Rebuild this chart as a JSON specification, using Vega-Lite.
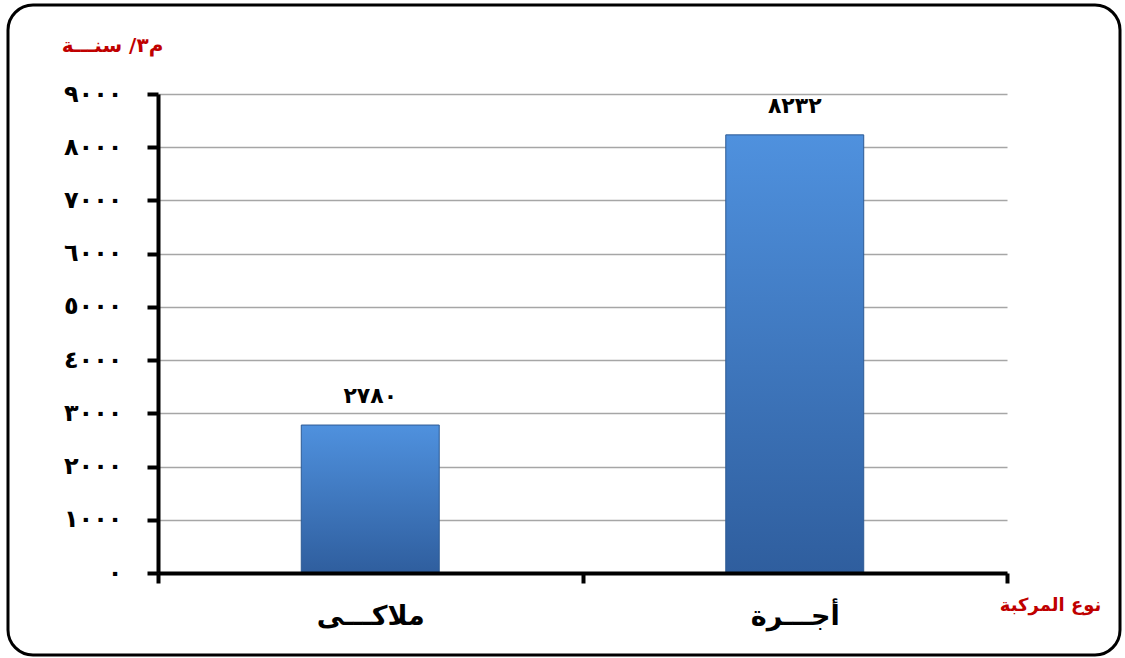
{
  "$schema": "https://vega.github.io/schema/vega-lite/v6.json",
  "width": 1112,
  "height": 650,
  "autosize": {"type": "none"},
  "padding": {"left": 8, "top": 5, "right": 5, "bottom": 3},
  "background": "white",
  "config": {
    "locale": {
      "number": {
        "decimal": ".",
        "thousands": ",",
        "grouping": [3],
        "currency": ["", ""],
        "numerals": ["٠", "١", "٢", "٣", "٤", "٥", "٦", "٧", "٨", "٩"]
      }
    },
    "view": {"stroke": "black", "strokeWidth": 3, "cornerRadius": 25, "fill": "white"},
    "font": "DejaVu Sans"
  },
  "data": {
    "values": [
      {"type": "ملاكـــى", "value": 2780},
      {"type": "أجـــرة", "value": 8232}
    ]
  },
  "encoding": {
    "x": {
      "field": "type",
      "type": "nominal",
      "sort": null,
      "scale": {"range": [150, 999], "paddingInner": 0, "paddingOuter": 0},
      "axis": {
        "orient": "bottom",
        "offset": -82,
        "zindex": 2,
        "tickBand": "extent",
        "labelAngle": 0,
        "labelFont": "DejaVu Sans",
        "labelFontSize": 27,
        "labelFontWeight": "bold",
        "labelColor": "black",
        "labelPadding": 20,
        "labelBaseline": "top",
        "domainColor": "black",
        "domainWidth": 4,
        "tickColor": "black",
        "tickWidth": 4,
        "tickSize": 10,
        "grid": false,
        "title": "نوع المركبة",
        "titleX": 1042,
        "titleY": 32,
        "titleAlign": "center",
        "titleBaseline": "middle",
        "titleColor": "#c00000",
        "titleFontSize": 18,
        "titleFontWeight": "bold"
      }
    },
    "y": {
      "field": "value",
      "type": "quantitative",
      "scale": {"domain": [0, 9000], "range": [568, 89], "nice": false, "zero": true},
      "axis": {
        "orient": "left",
        "offset": -150,
        "values": [0, 1000, 2000, 3000, 4000, 5000, 6000, 7000, 8000, 9000],
        "format": "d",
        "grid": true,
        "gridColor": "#a6a6a6",
        "gridWidth": 1.5,
        "domainColor": "black",
        "domainWidth": 4,
        "tickColor": "black",
        "tickWidth": 4,
        "tickSize": 11,
        "labelFont": "DejaVu Sans",
        "labelFontWeight": "bold",
        "labelFontSize": 24,
        "labelColor": "black",
        "labelPadding": 25,
        "title": "م٣/ سنـــة",
        "titleAngle": 0,
        "titleX": -46,
        "titleY": 40,
        "titleAlign": "center",
        "titleBaseline": "middle",
        "titleColor": "#c00000",
        "titleFontSize": 20,
        "titleFontWeight": "bold"
      }
    }
  },
  "layer": [
    {
      "mark": {
        "type": "bar",
        "width": {"band": 0.325},
        "stroke": "#2d5a94",
        "strokeWidth": 1,
        "color": {
          "gradient": "linear",
          "x1": 0, "y1": 0, "x2": 0, "y2": 1,
          "stops": [
            {"offset": 0, "color": "#4f91de"},
            {"offset": 1, "color": "#2f5e9e"}
          ]
        }
      }
    },
    {
      "mark": {
        "type": "text",
        "baseline": "middle",
        "dy": -29,
        "fontSize": 22,
        "fontWeight": "bold",
        "color": "black"
      },
      "encoding": {
        "text": {"field": "value", "type": "quantitative", "format": "d"}
      }
    }
  ]
}
